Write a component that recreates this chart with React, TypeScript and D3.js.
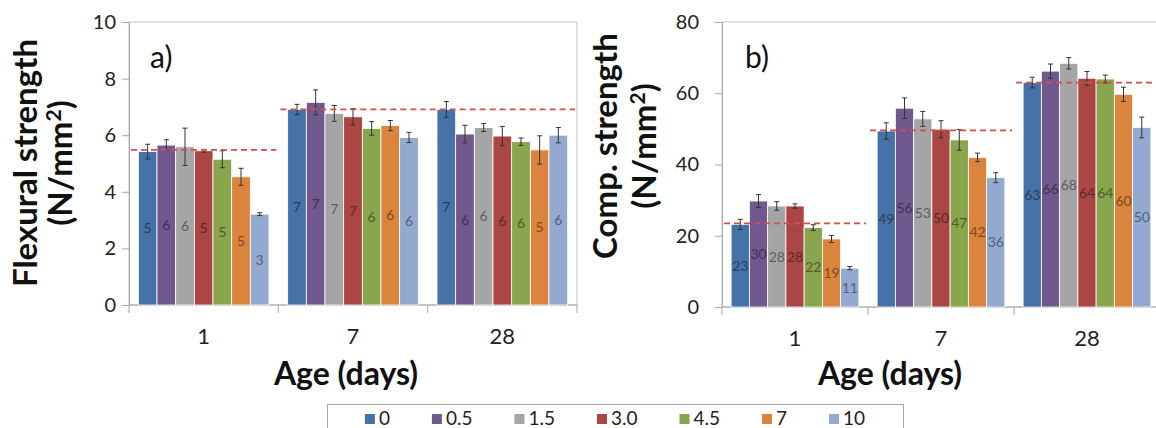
import React, { useEffect, useRef } from 'react';
import * as d3 from 'd3';

// categories and series
const ages = ['1', '7', '28'];
const series = ['0', '0.5', '1.5', '3.0', '4.5', '7', '10'];
const colors = ['#4572A7', '#71588F', '#A5A5A5', '#AA4643', '#89A54E', '#DB843D', '#93A9CF'];

// a) flexural strength, one array per age (values per series)
const flexural1 = [5.42, 5.65, 5.59, 5.45, 5.15, 4.53, 3.21];
const flexural7 = [6.91, 7.16, 6.77, 6.65, 6.24, 6.34, 5.92];
const flexural28 = [6.91, 6.04, 6.27, 5.97, 5.77, 5.48, 6.0];
const flexuralErr1 = [0.26, 0.19, 0.66, 0.05, 0.3, 0.3, 0.05];
const flexuralErr7 = [0.18, 0.44, 0.28, 0.29, 0.24, 0.18, 0.18];
const flexuralErr28 = [0.28, 0.31, 0.14, 0.34, 0.13, 0.5, 0.27];
const flexuralRef = [5.48, 6.91, 6.91];
const flexuralTicks = [0, 2, 4, 6, 8, 10];

// b) compressive strength
const comp1 = [23.2, 29.75, 28.35, 28.35, 22.3, 19.1, 10.9];
const comp7 = [49.4, 55.8, 52.8, 49.9, 46.9, 42.0, 36.3];
const comp28 = [63.0, 66.2, 68.4, 64.2, 64.0, 59.7, 50.4];
const compErr1 = [1.4, 1.8, 1.2, 0.6, 0.8, 1.0, 0.45];
const compErr7 = [2.3, 2.9, 2.1, 2.4, 2.9, 1.2, 1.4];
const compErr28 = [1.5, 2.0, 1.6, 1.9, 1.1, 2.0, 2.9];
const compRef = [23.5, 49.6, 63.0];
const compTicks = [0, 20, 40, 60, 80];

const FONT = 'Lato, "Open Sans", sans-serif';

function drawPanel(svg, o) {
  const g = svg.append('g');
  var x0 = d3.scaleBand().domain(ages).range([o.left, o.right]);
  var x1 = d3.scaleBand().domain(series).range([0, x0.bandwidth()]).paddingOuter(0.5);
  var y = d3.scaleLinear().domain([0, o.yMax]).range([o.bottom, o.top]);

  // plot frame
  g.append('rect')
    .attr('x', o.left).attr('y', o.top)
    .attr('width', o.right - o.left).attr('height', o.bottom - o.top)
    .attr('fill', 'none').attr('stroke', '#c6c6c6');

  // y axis
  var yAxis = g.append('g')
    .attr('transform', `translate(${o.left},0)`)
    .call(d3.axisLeft(y).tickValues(o.ticks).tickSize(7).tickSizeOuter(0).tickPadding(o.tickPad));
  yAxis.select('.domain').attr('stroke', '#a6a6a6');
  yAxis.selectAll('.tick line').attr('stroke', '#a6a6a6');
  yAxis.selectAll('.tick text')
    .attr('font-family', FONT).attr('font-size', 20).attr('fill', '#222');

  // baseline and category dividers
  g.append('line')
    .attr('x1', o.left).attr('x2', o.right)
    .attr('y1', y(0)).attr('y2', y(0))
    .attr('stroke', '#a6a6a6');
  var edges = ages.map(a => x0(a)).concat([o.right]);
  g.selectAll('.divider').data(edges).enter().append('line')
    .attr('x1', d => d).attr('x2', d => d)
    .attr('y1', y(0)).attr('y2', y(0) + 8)
    .attr('stroke', '#a6a6a6');

  // category labels
  g.selectAll('.cat').data(ages).enter().append('text')
    .attr('x', d => x0(d) + x0.bandwidth() / 2)
    .attr('y', y(0) + 39)
    .attr('text-anchor', 'middle')
    .attr('font-family', FONT).attr('font-size', 22).attr('fill', '#222')
    .text(d => d);

  // bars
  ages.forEach((age, ai) => {
    var grp = g.append('g').attr('transform', `translate(${x0(age)},0)`);
    var vals = o.values[ai];
    var errs = o.errors[ai];
    grp.selectAll('rect').data(vals).enter().append('rect')
      .attr('x', (d, i) => x1(series[i]))
      .attr('y', d => y(d))
      .attr('width', x1.bandwidth())
      .attr('height', d => y(0) - y(d))
      .attr('fill', (d, i) => colors[i])
      .attr('stroke', '#fff').attr('stroke-width', 0.8);

    // error bars
    vals.forEach((v, i) => {
      var cx = x1(series[i]) + x1.bandwidth() / 2;
      var e = errs[i];
      var eb = grp.append('g').attr('stroke', '#333').attr('stroke-width', 1);
      eb.append('line').attr('x1', cx).attr('x2', cx).attr('y1', y(v + e)).attr('y2', y(v - e));
      eb.append('line').attr('x1', cx - 2.5).attr('x2', cx + 2.5).attr('y1', y(v + e)).attr('y2', y(v + e));
      eb.append('line').attr('x1', cx - 2.5).attr('x2', cx + 2.5).attr('y1', y(v - e)).attr('y2', y(v - e));
    });

    // data labels, centred in the bar
    grp.selectAll('text').data(vals).enter().append('text')
      .attr('x', (d, i) => x1(series[i]) + x1.bandwidth() / 2)
      .attr('y', d => (y(d) + y(0)) / 2 + 5)
      .attr('text-anchor', 'middle')
      .attr('font-family', FONT).attr('font-size', 14)
      .attr('fill', (d, i) => d3.color(colors[i]).darker(1.6).toString())
      .text(d => Math.round(d));

    // dashed reference line
    g.append('line')
      .attr('x1', x0(age) + 2).attr('x2', x0(age) + x0.bandwidth() - 2)
      .attr('y1', y(o.refs[ai])).attr('y2', y(o.refs[ai]))
      .attr('stroke', '#D0504D').attr('stroke-width', 1.8)
      .attr('stroke-dasharray', '6,4');
  });

  // panel letter
  g.append('text')
    .attr('x', o.letterX).attr('y', 68)
    .attr('font-family', FONT).attr('font-size', 30).attr('fill', '#111')
    .text(o.letter);

  // axis titles
  o.titleLines.forEach((t, i) => {
    var tx = g.append('text')
      .attr('transform', `translate(${o.titleX[i]},${o.titleY}) rotate(-90)`)
      .attr('text-anchor', 'middle')
      .attr('font-family', FONT).attr('font-weight', 'bold').attr('font-size', 33).attr('fill', '#111');
    if (t === '(N/mm2)') {
      tx.append('tspan').text('(N/mm');
      tx.append('tspan').attr('dy', -11).attr('font-size', 21).text('2');
      tx.append('tspan').attr('dy', 11).text(')');
    } else {
      tx.text(t);
    }
  });
  g.append('text')
    .attr('x', o.xTitleX).attr('y', 385)
    .attr('text-anchor', 'middle')
    .attr('font-family', FONT).attr('font-weight', 'bold').attr('font-size', 32).attr('fill', '#111')
    .text('Age (days)');
}

const App = () => {
  const ref = useRef(null);

  useEffect(() => {
    var svg = d3.select(ref.current);
    svg.selectAll('*').remove();
    svg.append('rect').attr('width', 1156).attr('height', 428).attr('fill', '#fff');

    drawPanel(svg, {
      left: 129, right: 577, top: 22, bottom: 305, yMax: 10,
      ticks: flexuralTicks, tickPad: 6,
      values: [flexural1, flexural7, flexural28],
      errors: [flexuralErr1, flexuralErr7, flexuralErr28],
      refs: flexuralRef,
      letter: 'a)', letterX: 150,
      titleLines: ['Flexural strength', '(N/mm2)'], titleX: [37, 72], titleY: 163,
      xTitleX: 346,
    });

    drawPanel(svg, {
      left: 722, right: 1160, top: 22, bottom: 307, yMax: 80,
      ticks: compTicks, tickPad: 16,
      values: [comp1, comp7, comp28],
      errors: [compErr1, compErr7, compErr28],
      refs: compRef,
      letter: 'b)', letterX: 745,
      titleLines: ['Comp. strength', '(N/mm2)'], titleX: [617, 656], titleY: 146,
      xTitleX: 890,
    });

    // legend
    var lg = svg.append('g');
    lg.append('rect')
      .attr('x', 327.5).attr('y', 404.5).attr('width', 576).attr('height', 40)
      .attr('fill', '#fff').attr('stroke', '#a6a6a6');
    var items = lg.selectAll('.item').data(series).enter().append('g');
    items.append('rect')
      .attr('width', 10).attr('height', 10).attr('y', 414)
      .attr('fill', (d, i) => colors[i]);
    items.append('text')
      .attr('x', 14).attr('y', 425)
      .attr('font-family', FONT).attr('font-size', 19).attr('fill', '#222')
      .text(d => d);
    var widths = [];
    items.select('text').each(function () { widths.push(this.getComputedTextLength()); });
    var gap = 42;
    var total = d3.sum(widths.map(w => 14 + w)) + gap * (series.length - 1);
    var pos = 615 - total / 2;
    items.attr('transform', (d, i) => {
      var p = pos;
      pos += 14 + widths[i] + gap;
      return `translate(${p},0)`;
    });
  }, []);

  return (
    <svg ref={ref} width={1156} height={428}
      style={{ position: 'absolute', left: 0, top: 0, display: 'block' }} />
  );
};

export default App;
